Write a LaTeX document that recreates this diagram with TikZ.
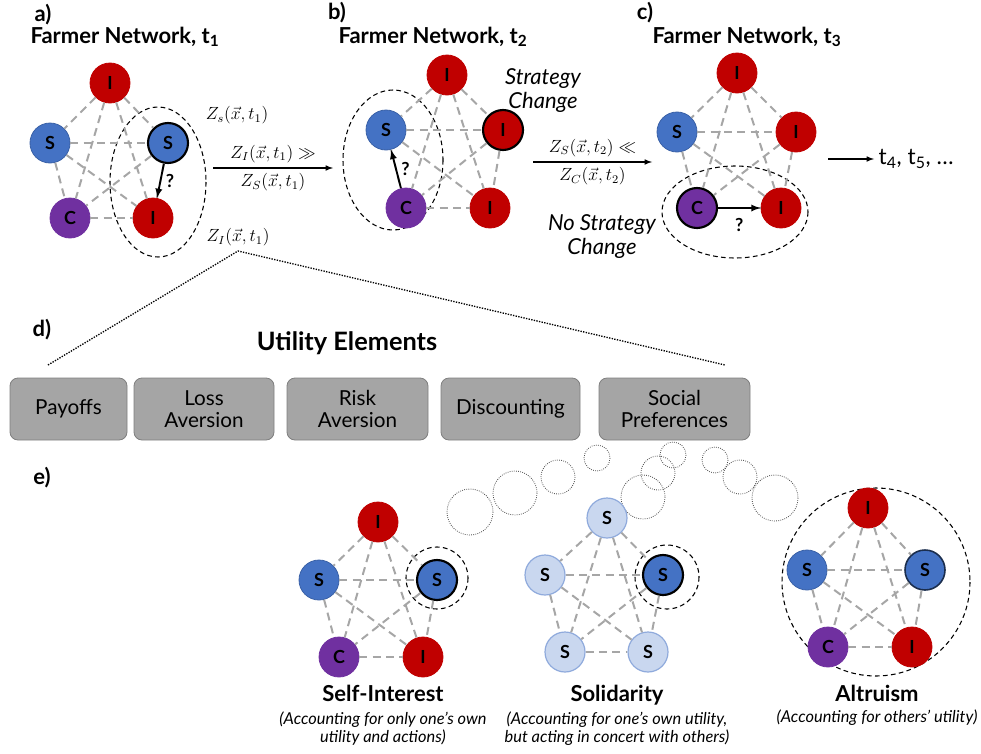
\documentclass[tikz,border=0pt]{standalone}
\usepackage{fontspec}
\setmainfont{Lato}
\usetikzlibrary{positioning}

\definecolor{rot}{HTML}{C00000}
\definecolor{blau}{HTML}{4472C4}
\definecolor{lila}{HTML}{7030A0}
\definecolor{hellblau}{HTML}{C9D7EF}
\definecolor{hellrand}{HTML}{8FAADC}
\definecolor{kantengrau}{HTML}{A6A6A6}
\definecolor{boxgrau}{HTML}{A5A5A5}
\definecolor{boxrand}{HTML}{7F7F7F}

\tikzset{
	knoten/.style={circle, minimum size=30pt, inner sep=0pt, line width=0.6pt, font=\fontsize{13.5}{13.5}\selectfont\bfseries},
	inode/.style={knoten, fill=rot, draw=rot},
	snode/.style={knoten, fill=blau, draw=blau!85!black},
	cnode/.style={knoten, fill=lila, draw=lila},
	lsnode/.style={knoten, fill=hellblau, draw=hellrand, line width=0.9pt},
	hl/.style={draw=black, line width=1.6pt},
	kante/.style={color=kantengrau, line width=1.5pt, dash pattern=on 6pt off 4pt},
	huelle/.style={black, line width=0.8pt, dash pattern=on 3.5pt off 2.5pt},
	pfeil/.style={-latex, line width=1.4pt},
	frage/.style={font=\fontsize{13.5}{14}\selectfont\bfseries},
	uebergang/.style={-latex, line width=0.9pt},
	blase/.style={black!70, line width=0.6pt, densely dotted},
	element/.style={rectangle, rounded corners=6pt, fill=boxgrau, draw=boxrand, line width=0.6pt,
		minimum height=46.5pt, align=center, font=\fontsize{15.5}{16.5}\selectfont},
	titel/.style={font=\fontsize{16.5}{18}\selectfont\bfseries},
	formel/.style={font=\fontsize{12}{14}\selectfont, scale=1.1},
	kursiv/.style={font=\fontsize{16.5}{18}\selectfont\itshape, align=center},
	notiz/.style={font=\fontsize{12.3}{13.5}\selectfont\itshape, align=center}
}

% alle Kanten eines Netzwerks
\newcommand{\vollgraph}[1]{%
	\foreach \u/\v in {1/2,1/3,1/4,1/5,2/3,2/4,2/5,3/4,3/5,4/5}
		\draw[kante] (#1\u) -- (#1\v);
}

\begin{document}
\begin{tikzpicture}[x=0.75pt, y=-0.75pt]
	\useasboundingbox (0,0) rectangle (981,753);

	% Ueberschriften
	\node[titel] (la) at (43,15) {a)};
	\node[titel] (lb) at (337,13) {b)};
	\node[titel] (lc) at (645,13) {c)};
	\node[titel] (ta) at (125,37) {Farmer Network, t\textsubscript{1}};
	\node[titel] (tb) at (433,37) {Farmer Network, t\textsubscript{2}};
	\node[titel] (tc) at (747,37) {Farmer Network, t\textsubscript{3}};

	% Netzwerk a
	\draw[huelle] (158,182) ellipse [x radius=48, y radius=75];
	\node[inode] (a1) at (110,83) {I};
	\node[snode] (a2) at (50,143) {S};
	\node[snode,hl] (a3) at (168,143) {S};
	\node[cnode] (a4) at (70,218) {C};
	\node[inode] (a5) at (153,218) {I};
	\vollgraph{a}
	\draw[pfeil] (a3) -- node[right, frage] {?} (a5);

	% Netzwerk b
	\draw[huelle] (393,160) ellipse [x radius=50, y radius=70];
	\node[inode] (b1) at (447,75) {I};
	\node[snode] (b2) at (386,130) {S};
	\node[inode,hl] (b3) at (503,130) {I};
	\node[cnode] (b4) at (406,208) {C};
	\node[inode] (b5) at (490,208) {I};
	\vollgraph{b}
	\draw[pfeil] (b4) -- node[right, frage] {?} (b2);

	% Netzwerk c
	\draw[huelle] (735,212) ellipse [x radius=73, y radius=46];
	\node[inode] (c1) at (737,73) {I};
	\node[snode] (c2) at (677,132) {S};
	\node[inode] (c3) at (796,132) {I};
	\node[cnode,hl] (c4) at (697,208) {C};
	\node[inode] (c5) at (781,208) {I};
	\vollgraph{c}
	\draw[pfeil] (c4) -- node[below=4pt, frage] {?} (c5);

	% Uebergaenge
	\node[formel] (zs) at (237,115) {$Z_s(\vec{x},t_1)$};
	\node[formel] (zi) at (238,237) {$Z_I(\vec{x},t_1)$};
	\coordinate (p1s) at (213,168);
	\coordinate (p1e) at (333,168);
	\draw[uebergang] (p1s) -- node[formel, above] {$Z_I(\vec{x},t_1) \gg$}
		node[formel, below] {$Z_S(\vec{x},t_1)$} (p1e);
	\coordinate (p2s) at (533,162);
	\coordinate (p2e) at (652,162);
	\draw[uebergang] (p2s) -- node[formel, above] {$Z_S(\vec{x},t_2) \ll$}
		node[formel, below] {$Z_C(\vec{x},t_2)$} (p2e);
	\node[kursiv] (sc) at (543,91) {Strategy\\Change};
	\node[kursiv] (nsc) at (602,237) {No Strategy\\Change};
	\coordinate (p3s) at (828,159);
	\node[anchor=west, font=\fontsize{17}{18}\selectfont] (tn) at (874,159) {t\textsubscript{4}, t\textsubscript{5}, \dots};
	\draw[uebergang] (p3s) -- (tn);

	% Nutzenelemente
	\node[titel] (ld) at (42,330) {d)};
	\node[titel, font=\fontsize{19}{21}\selectfont\bfseries] (ue) at (347,343) {Utility Elements};
	\coordinate (d1) at (48,365);
	\coordinate (d2) at (725,365);
	\draw[black, line width=1pt, densely dotted] (d1) -- (zi.south) -- (d2);
	\node[element, minimum width=87.75pt] (e1) at (68.5,409) {Payoffs};
	\node[element, minimum width=105pt] (e2) at (204,409) {Loss\\Aversion};
	\node[element, minimum width=105.75pt] (e3) at (357.5,409) {Risk\\Aversion};
	\node[element, minimum width=104.25pt] (e4) at (510.5,409) {Discounting};
	\node[element, minimum width=113.25pt] (e5) at (674.5,409) {Social\\Preferences};

	% Gedankenblasen
	\node[titel] (le) at (42,478) {e)};
	\foreach \x/\y/\r in {470/512/23, 515/493/22, 558/477/17, 597/458/13,
		643/497/22, 658/473/17, 673/455/13, 715/460/13, 740/477/17, 775/498/23}
		\draw[blase] (\x,\y) circle [radius=\r];

	% Eigeninteresse
	\draw[huelle] (437,578) circle [radius=31];
	\node[inode] (s1) at (378,522) {I};
	\node[snode] (s2) at (319,580) {S};
	\node[snode,hl] (s3) at (437,580) {S};
	\node[cnode] (s4) at (339,657) {C};
	\node[inode] (s5) at (423,657) {I};
	\vollgraph{s}
	\node[titel] (ts) at (383,693) {Self-Interest};
	\node[notiz] (ns) at (383,729) {(Accounting for only one's own\\utility and actions)};

	% Solidaritaet
	\draw[huelle] (667,577) circle [radius=32];
	\node[lsnode] (o1) at (607,518) {S};
	\node[lsnode] (o2) at (545,575) {S};
	\node[snode,hl] (o3) at (663,575) {S};
	\node[lsnode] (o4) at (565,652) {S};
	\node[lsnode] (o5) at (648,652) {S};
	\vollgraph{o}
	\node[titel] (to) at (617,695) {Solidarity};
	\node[notiz] (no) at (617,729) {(Accounting for one's own utility,\\but acting in concert with others)};

	% Altruismus
	\draw[huelle] (876,582) circle [radius=94];
	\node[inode] (l1) at (868,508) {I};
	\node[snode] (l2) at (807,570) {S};
	\node[snode, draw=blau!40!black, line width=1.2pt] (l3) at (925,570) {S};
	\node[cnode] (l4) at (828,647) {C};
	\node[inode] (l5) at (912,647) {I};
	\vollgraph{l}
	\node[titel] (tl) at (877,693) {Altruism};
	\node[notiz] (nl) at (877,718) {(Accounting for others' utility)};
\end{tikzpicture}
\end{document}
